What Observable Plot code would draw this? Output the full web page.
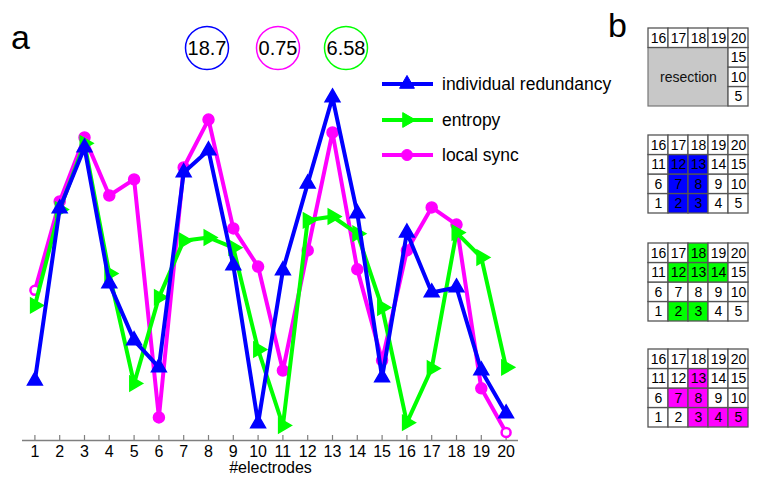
<!DOCTYPE html>
<html><head><meta charset="utf-8">
<script src="https://cdn.jsdelivr.net/npm/d3@7"></script>
<script src="https://cdn.jsdelivr.net/npm/@observablehq/plot@0.6"></script>
<style>
html,body{margin:0;padding:0;background:#fff;}
#wrap{position:relative;width:762px;height:487px;overflow:hidden;background:#fff;font-family:"Liberation Sans",Arial,sans-serif;}
#wrap > *{position:absolute;}
</style></head><body><div id="wrap"></div>
<script>
// ---- data ----
const electrodes = [1,2,3,4,5,6,7,8,9,10,11,12,13,14,15,16,17,18,19,20];
const redundancy = [17.1,66.3,83.7,44.9,28.6,20.9,76.6,82.9,50.0,4.9,48.6,73.4,98.0,64.9,18.0,59.4,42.3,43.7,20.0,7.7];
const entropy    = [38.6,66.0,84.9,47.7,16.3,40.9,57.1,58.0,55.1,26.0,4.3,62.9,64.0,59.1,38.0,5.1,20.6,59.4,52.3,20.9];
const localSync  = [42.9,68.3,86.6,70.0,74.6,6.6,78.0,91.7,60.6,49.7,20.0,54.3,88.0,48.9,22.9,54.3,66.6,61.7,14.9,2.3];
const seriesNames = ["individual redundancy","entropy","local sync"];
const seriesColors = ["#0000ff","#00ff00","#ff00ff"];
const scores = ["18.7","0.75","6.58"];
const scoreColors = ["#0000ff","#ff00ff","#00ff00"];
const panelLabels = ["a","b"];
const resectionVisible = [5,10,15,16,17,18,19,20];
const redundancyCells = [2,3,7,8,12,13];
const entropyCells = [2,3,12,13,14,18];
const syncCells = [3,4,5,7,8,13];
const resectionText = "resection";

const wrap = document.getElementById("wrap");
const FONT = '"Liberation Sans", Arial, sans-serif';
const [BLUE, GREEN, MAGENTA] = seriesColors;

const rows = (vals) => electrodes.map((e, i) => ({e, v: vals[i], end: i === 0 || i === electrodes.length - 1}));
const R = rows(redundancy), E = rows(entropy), S = rows(localSync);

const main = Plot.plot({
  width: 762, height: 487,
  marginLeft: 22, marginRight: 244, marginTop: 90, marginBottom: 47,
  x: {domain: [0.5, 20.5]},
  y: {domain: [0, 100], axis: null},
  style: {fontFamily: FONT, fontSize: "16px", background: "transparent", color: "black"},
  marks: [
    Plot.ruleY([0], {stroke: "#7f7f7f", strokeWidth: 1.5}),
    Plot.axisX({ticks: electrodes, tickFormat: d => String(d), tickSize: -5, tickPadding: 10, stroke: "#7f7f7f", fill: "black", strokeWidth: 1.2, fontSize: 16, label: null}),
    Plot.text(["#electrodes"], {frameAnchor: "bottom", lineAnchor: "middle", dy: 27, fontSize: 16, fill: "black"}),
    // local sync
    Plot.line(S, {x: "e", y: "v", stroke: MAGENTA, strokeWidth: 4}),
    Plot.dot(S.filter(d => !d.end), {x: "e", y: "v", r: 5.5, fill: MAGENTA, stroke: MAGENTA}),
    Plot.dot(S.filter(d => d.end), {x: "e", y: "v", r: 4.5, fill: "white", stroke: MAGENTA, strokeWidth: 2.5}),
    // entropy
    Plot.line(E, {x: "e", y: "v", stroke: GREEN, strokeWidth: 4}),
    Plot.dot(E, {x: "e", y: "v", symbol: "triangle", rotate: 90, r: 5.5, fill: GREEN, stroke: GREEN}),
    // redundancy
    Plot.line(R, {x: "e", y: "v", stroke: BLUE, strokeWidth: 4}),
    Plot.dot(R, {x: "e", y: "v", symbol: "triangle", r: 5.5, fill: BLUE, stroke: BLUE})
  ]
});
main.style.left = "0px"; main.style.top = "0px";
wrap.appendChild(main);

// ---- annotations (legend, score circles, panel letters) ----
const svg = d3.select(wrap).append("svg")
  .attr("width", 762).attr("height", 487)
  .style("left", "0px").style("top", "0px").style("font-family", FONT);

const legendY = [84, 120, 155];
const symbols = [d3.symbolTriangle, d3.symbolTriangle, d3.symbolCircle];
const rots = [0, 90, 0];
seriesNames.forEach((name, i) => {
  const g = svg.append("g");
  g.append("line").attr("x1", 382).attr("x2", 433).attr("y1", legendY[i]).attr("y2", legendY[i])
    .attr("stroke", seriesColors[i]).attr("stroke-width", 4);
  g.append("path").attr("d", d3.symbol(symbols[i], 95)())
    .attr("transform", `translate(407,${legendY[i]}) rotate(${rots[i]})`)
    .attr("fill", seriesColors[i]).attr("stroke", seriesColors[i]);
  g.append("text").attr("x", 442).attr("y", legendY[i]).attr("dy", "0.35em")
    .attr("font-size", 17.5).attr("fill", "black").text(name);
});

const circleX = [207, 278, 346];
scores.forEach((s, i) => {
  svg.append("circle").attr("cx", circleX[i]).attr("cy", 48).attr("r", 21.5)
    .attr("fill", "white").attr("stroke", scoreColors[i]).attr("stroke-width", 1.5);
  svg.append("text").attr("x", circleX[i]).attr("y", 48).attr("dy", "0.36em")
    .attr("text-anchor", "middle").attr("font-size", 20).attr("fill", "black").text(s);
});

svg.append("text").attr("x", 11).attr("y", 49).attr("font-size", 34).text(panelLabels[0]);
svg.append("text").attr("x", 608).attr("y", 37).attr("font-size", 34).text(panelLabels[1]);

// ---- panel b grids ----
function cellOf(n) { return {n, col: (n - 1) % 5, row: Math.floor((n - 1) / 5)}; }
function grid(top, cells, highlight, color, resection) {
  const data = cells.map(cellOf);
  const marks = [];
  if (resection) {
    marks.push(Plot.rect([{x1: 0, x2: 4, y1: 0, y2: 3}], {x1: "x1", x2: "x2", y1: "y1", y2: "y2", fill: "#c8c8c8", stroke: "#777", strokeWidth: 1.2}));
    marks.push(Plot.text([resectionText], {x: 2, y: 1.5, fontSize: 14, fill: "#111"}));
  }
  marks.push(Plot.rect(data, {x1: "col", x2: d => d.col + 1, y1: "row", y2: d => d.row + 1,
    fill: d => highlight.includes(d.n) ? color : "white", stroke: "#555", strokeWidth: 1.3}));
  marks.push(Plot.text(data, {x: d => d.col + 0.5, y: d => d.row + 0.5, text: "n", fontSize: 14, fill: "black"}));
  const p = Plot.plot({
    width: 102, height: 80, margin: 1,
    x: {domain: [0, 5], axis: null}, y: {domain: [0, 4], axis: null},
    color: {type: "identity"},
    style: {fontFamily: FONT, background: "transparent"},
    marks
  });
  p.style.left = "647px"; p.style.top = (top - 1) + "px";
  wrap.appendChild(p);
}
grid(28, resectionVisible, [], null, true);
grid(135, electrodes, redundancyCells, BLUE, false);
grid(243, electrodes, entropyCells, GREEN, false);
grid(349, electrodes, syncCells, MAGENTA, false);
</script></body></html>
